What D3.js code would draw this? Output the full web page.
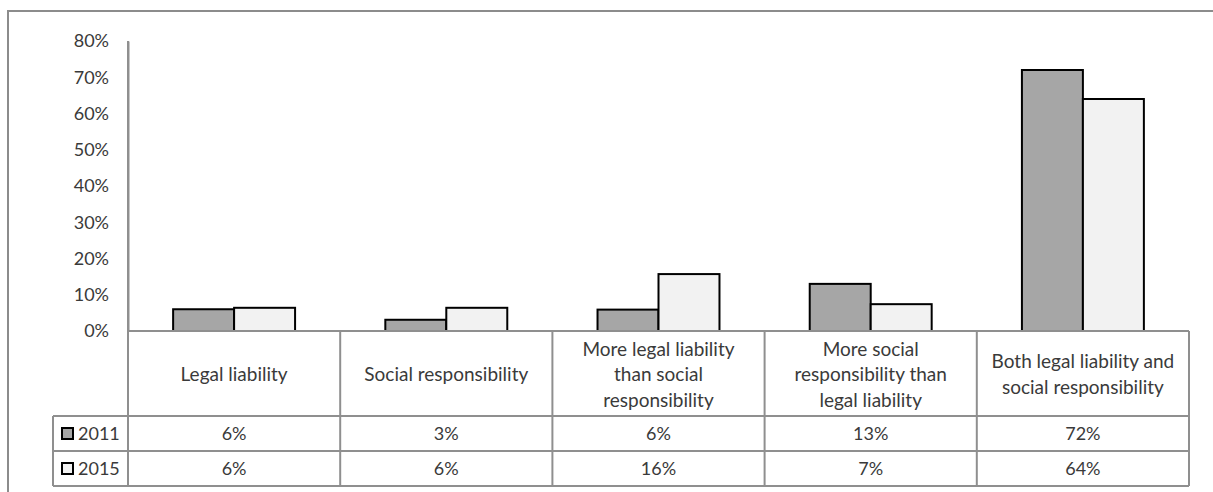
<!DOCTYPE html>
<html><head><meta charset="utf-8">
<script src="https://cdn.jsdelivr.net/npm/d3@7"></script>
<style>html,body{margin:0;padding:0;background:#fff;}svg{display:block;}</style>
</head><body>
<svg id="c" width="1213" height="492"></svg>
<script>
const categories = [
  ["Legal liability"],
  ["Social responsibility"],
  ["More legal liability", "than social", "responsibility"],
  ["More social", "responsibility than", "legal liability"],
  ["Both legal liability and", "social responsibility"]
];
const series = ["2011", "2015"];
const values2011 = [0.060, 0.031, 0.059, 0.130, 0.720];
const values2015 = [0.064, 0.064, 0.157, 0.074, 0.640];
const labels2011 = ["6%", "3%", "6%", "13%", "72%"];
const labels2015 = ["6%", "6%", "16%", "7%", "64%"];
const yTicks = [0, 0.1, 0.2, 0.3, 0.4, 0.5, 0.6, 0.7, 0.8];
const colors = ["#a6a6a6", "#f2f2f2"];

const svg = d3.select("#c");
const FONT = "Lato, 'Open Sans', sans-serif";
const FS = 18;
const FS_CAT = 19;
const textColor = "#3a3a3a";
const gridColor = "#8f8f8f";

const left = 128, right = 1189, y0 = 331, yTop = 41;
const tableTop = 331, headerBottom = 416, row1Bottom = 451, row2Bottom = 486, legendLeft = 53;

// outer border
svg.append("path").attr("d", `M8,492 L8,11 L1213,11`).attr("fill","none").attr("stroke","#8c8c8c").attr("stroke-width",2);

const idx = d3.range(categories.length);
const x = d3.scaleBand().domain(idx).range([left, right]).paddingInner(0).paddingOuter(0);
const xInner = d3.scaleBand().domain(series).range([0, x.bandwidth()]).paddingInner(0).paddingOuter(0.74);
const y = d3.scaleLinear().domain([0, 0.8]).range([y0, yTop]);

// y axis
const yAxis = d3.axisLeft(y).tickValues(yTicks).tickFormat(d3.format(".0%")).tickSize(0).tickPadding(19);
const ga = svg.append("g").attr("transform", `translate(${left},0)`).call(yAxis);
ga.select(".domain").attr("stroke", gridColor).attr("stroke-width", 2);
ga.selectAll("text").attr("font-family", FONT).attr("font-size", FS).attr("fill", textColor);

// bars
const data = idx.map(i => ({i, vals: [values2011[i], values2015[i]]}));
const g = svg.append("g");
data.forEach(d => {
  series.forEach((s, k) => {
    g.append("rect")
      .attr("x", x(d.i) + xInner(s))
      .attr("y", y(d.vals[k]))
      .attr("width", xInner.bandwidth())
      .attr("height", y(0) - y(d.vals[k]))
      .attr("fill", colors[k])
      .attr("stroke", "#000")
      .attr("stroke-width", 2);
  });
});

// table lines
const L = svg.append("g").attr("stroke", gridColor).attr("stroke-width", 2).attr("fill","none");
L.append("line").attr("x1", left).attr("x2", right).attr("y1", tableTop).attr("y2", tableTop);
[headerBottom, row1Bottom, row2Bottom].forEach(yy => L.append("line").attr("x1", legendLeft).attr("x2", right).attr("y1", yy).attr("y2", yy));
L.append("line").attr("x1", legendLeft).attr("x2", legendLeft).attr("y1", headerBottom).attr("y2", row2Bottom);
L.append("line").attr("x1", left).attr("x2", left).attr("y1", yTop).attr("y2", row2Bottom);
idx.forEach(i => {
  const xx = x(i) + x.bandwidth();
  L.append("line").attr("x1", xx).attr("x2", xx).attr("y1", tableTop).attr("y2", row2Bottom);
});

// header text
const lh = 25.5;
idx.forEach(i => {
  const lines = categories[i];
  const cy = (tableTop + headerBottom) / 2 + 1;
  const t = svg.append("text").attr("x", x(i) + x.bandwidth()/2)
    .attr("text-anchor","middle").attr("font-family",FONT).attr("font-size",FS_CAT).attr("fill",textColor);
  lines.forEach((ln, j) => {
    t.append("tspan").attr("x", x(i) + x.bandwidth()/2)
      .attr("y", cy + (j - (lines.length-1)/2) * lh).attr("dy","0.35em").text(ln);
  });
});

// rows
const rows = [[labels2011, (row1Bottom+headerBottom)/2], [labels2015, (row2Bottom+row1Bottom)/2]];
rows.forEach(([labs, cy], k) => {
  idx.forEach(i => {
    svg.append("text").attr("x", x(i)+x.bandwidth()/2).attr("y", cy).attr("dy","0.35em")
      .attr("text-anchor","middle").attr("font-family",FONT).attr("font-size",FS).attr("fill",textColor).text(labs[i]);
  });
  svg.append("rect").attr("x", 62).attr("y", cy - 5.5).attr("width", 11).attr("height", 11)
    .attr("fill", colors[k]).attr("stroke","#000").attr("stroke-width",2);
  svg.append("text").attr("x", 78).attr("y", cy).attr("dy","0.35em")
    .attr("font-family",FONT).attr("font-size",FS).attr("fill",textColor).text(series[k]);
});
</script>
</body></html>
